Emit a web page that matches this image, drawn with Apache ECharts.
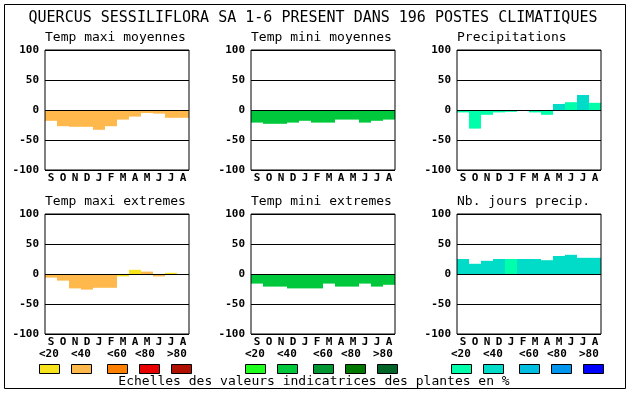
<!DOCTYPE html>
<html>
<head>
<meta charset="utf-8">
<script src="https://cdn.jsdelivr.net/npm/echarts@6/dist/echarts.min.js"></script>
<style>html,body{margin:0;padding:0;background:#fff}#c{width:630px;height:394px}</style>
</head>
<body>
<div id="c"></div>
<script>
const mainTitle = 'QUERCUS SESSILIFLORA SA 1-6 PRESENT DANS 196 POSTES CLIMATIQUES';
const caption = 'Echelles des valeurs indicatrices des plantes en %';
const months = ['S','O','N','D','J','F','M','A','M','J','J','A'];
const legendLabels = ['<20','<40','<60','<80','>80'];
const panelTitles = ['Temp maxi moyennes','Temp mini moyennes','Precipitations','Temp maxi extremes','Temp mini extremes','Nb. jours precip.'];

const tmaxMoy = [-18,-27,-28,-28,-33,-27,-16,-11,-5,-6,-13,-13];
const tmaxMoyCls = [1,1,1,1,1,1,1,1,1,1,1,1];
const tminMoy = [-21,-23,-23,-21,-18,-21,-21,-16,-16,-21,-18,-16];
const tminMoyCls = [1,1,1,1,1,1,1,1,1,1,1,1];
const precip = [-4,-31,-8,-4,-3,0,-4,-8,10,13,25,12];
const precipCls = [0,0,0,0,0,0,0,0,1,0,1,0];
const tmaxExt = [-6,-11,-24,-26,-23,-23,-4,7,4,-4,2,0];
const tmaxExtCls = [1,1,1,1,1,1,0,0,1,1,0,0];
const tminExt = [-16,-21,-21,-24,-24,-24,-16,-21,-21,-16,-21,-18];
const tminExtCls = [1,1,1,1,1,1,1,1,1,1,1,1];
const nbJours = [25,17,22,25,25,25,25,23,30,32,27,27];
const nbJoursCls = [1,1,1,1,0,1,1,1,1,1,1,1];

const warmPal = ['#F8E41C','#FFB84C','#FF8000','#E80000','#B01000'];
const greenPal = ['#1EFF1E','#00C83C','#009632','#007800','#006428'];
const bluePal = ['#00FFAA','#00DCC8','#00BEE0','#0096EE','#0000FF'];

const panels = [
  {vals: tmaxMoy, cls: tmaxMoyCls, pal: warmPal},
  {vals: tminMoy, cls: tminMoyCls, pal: greenPal},
  {vals: precip, cls: precipCls, pal: bluePal},
  {vals: tmaxExt, cls: tmaxExtCls, pal: warmPal},
  {vals: tminExt, cls: tminExtCls, pal: greenPal},
  {vals: nbJours, cls: nbJoursCls, pal: bluePal}
];

const cols = [45, 251, 457];
const rows = [50, 214];
const W = 144, H = 120;
const FONT = 'DejaVu Sans Mono';

const grid = [], xAxis = [], yAxis = [], series = [], graphic = [];
panels.forEach((p, i) => {
  const left = cols[i % 3], top = rows[Math.floor(i / 3)];
  grid.push({left: left, top: top, width: W, height: H, show: true, borderColor: '#000', borderWidth: 1, z: 5});
  xAxis.push({type: 'category', gridIndex: i, data: months, z: 5,
    axisLine: {show: false}, axisTick: {show: false}, splitLine: {show: false},
    axisLabel: {interval: 0, margin: 3, color: '#000', fontFamily: FONT, fontWeight: 'bold', fontSize: 11}});
  yAxis.push({type: 'value', gridIndex: i, min: -100, max: 100, interval: 50, z: 5,
    axisLine: {show: false}, axisTick: {show: false},
    splitLine: {show: true, lineStyle: {color: '#000', width: 1}},
    axisLabel: {margin: 6, color: '#000', fontFamily: FONT, fontWeight: 'bold', fontSize: 11}});
  series.push({type: 'bar', xAxisIndex: i, yAxisIndex: i, barCategoryGap: '0%', barGap: '0%',
    data: p.vals.map((v, j) => ({value: v, itemStyle: {color: p.pal[p.cls[j]]}}))});
  graphic.push({type: 'text', left: left, top: top - 19,
    style: {text: panelTitles[i], fontFamily: FONT, fontSize: 13, fill: '#000'}});
});

graphic.push({type: 'rect', shape: {x: 4.5, y: 4.5, width: 621, height: 384}, style: {fill: 'none', stroke: '#000', lineWidth: 1}});
graphic.push({type: 'text', x: 313, y: 18, style: {text: mainTitle, fontFamily: FONT, fontSize: 15, fill: '#000', align: 'center', verticalAlign: 'middle'}});
graphic.push({type: 'text', x: 314, y: 382, style: {text: caption, fontFamily: FONT, fontSize: 13, fill: '#000', align: 'center', verticalAlign: 'middle'}});

const labelOff = [-6, 26, 62, 90, 122];
const boxOff = [-6, 26, 62, 94, 126];
[warmPal, greenPal, bluePal].forEach((pal, c) => {
  const left = cols[c];
  legendLabels.forEach((lab, k) => {
    graphic.push({type: 'text', x: left + labelOff[k], y: 354,
      style: {text: lab, fontFamily: FONT, fontWeight: 'bold', fontSize: 11, fill: '#000', align: 'left', verticalAlign: 'middle'}});
    graphic.push({type: 'rect', shape: {x: left + boxOff[k] + 0.5, y: 364.5, width: 20, height: 9},
      style: {fill: pal[k], stroke: '#000', lineWidth: 1}});
  });
});

const chart = echarts.init(document.getElementById('c'), null, {renderer: 'canvas'});
chart.setOption({
  animation: false,
  backgroundColor: '#fff',
  grid, xAxis, yAxis, series, graphic
});
</script>
</body>
</html>
